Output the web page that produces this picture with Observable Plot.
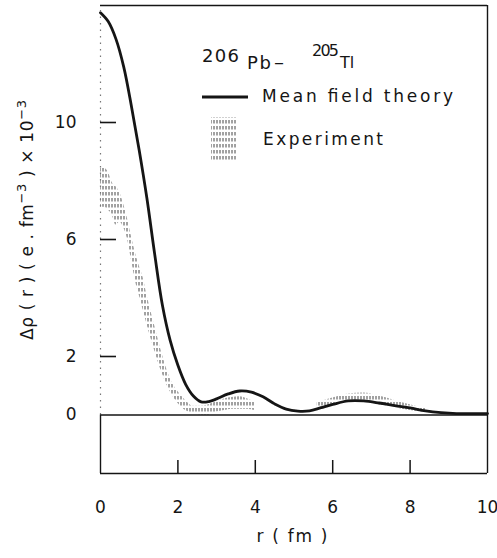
<!DOCTYPE html>
<html><head><meta charset="utf-8">
<script src="https://cdn.jsdelivr.net/npm/d3@7"></script>
<script src="https://cdn.jsdelivr.net/npm/@observablehq/plot@0.6"></script>
<style>body{margin:0;background:#fff} #chart svg{display:block}</style>
</head><body><div id="chart"></div>
<script>
// ---- data ----
const xTicks = [0, 2, 4, 6, 8, 10];
const yTicks = [0, 2, 6, 10];
const xDomain = [0, 10];
const yDomain = [-2, 14];

// Mean field theory curve
const theoryR = [0, 0.2, 0.4, 0.6, 0.8, 1.0, 1.2, 1.4, 1.6, 1.8, 2.0, 2.2, 2.4, 2.6, 2.8, 3.0, 3.3, 3.6, 3.9, 4.2, 4.5, 4.8, 5.1, 5.4, 5.7, 6.0, 6.4, 6.8, 7.2, 7.6, 8.0, 8.4, 8.8, 9.2, 10];
const theoryQ = [13.75, 13.45, 12.85, 11.9, 10.55, 9.05, 7.4, 5.5, 3.75, 2.55, 1.7, 1.05, 0.65, 0.45, 0.46, 0.55, 0.72, 0.82, 0.78, 0.62, 0.38, 0.2, 0.13, 0.14, 0.25, 0.36, 0.48, 0.48, 0.41, 0.32, 0.24, 0.14, 0.08, 0.05, 0.05];

// Experiment band (lower / upper), null = gap
const expR  = [0, 0.1, 0.2, 0.3, 0.4, 0.5, 0.6, 0.7, 0.8, 0.9, 1.0, 1.1, 1.2, 1.4, 1.6, 1.8, 2.0, 2.2, 2.4, 2.6, 2.8, 3.0, 3.2, 3.4, 3.6, 3.8, 4.0, 4.8, 5.6, 6.0, 6.4, 6.8, 7.2, 7.6, 8.0, 8.4];
const expHi = [8.5, 8.45, 8.3, 7.95, 7.8, 7.6, 7.2, 6.7, 6.1, 5.55, 5.1, 4.7, 4.1, 3.05, 2.05, 1.25, 0.8, 0.5, 0.3, 0.3, 0.35, 0.45, 0.55, 0.6, 0.62, 0.55, 0.45, null, 0.42, 0.58, 0.72, 0.75, 0.65, 0.5, 0.35, 0.22];
const expLo = [7.1, 7.1, 7.0, 6.85, 6.5, 6.6, 6.4, 6.0, 5.3, 4.6, 4.1, 3.6, 3.1, 2.2, 1.4, 0.8, 0.4, 0.15, 0.05, 0.0, 0.0, 0.1, 0.15, 0.2, 0.2, 0.2, 0.15, null, 0.25, 0.35, 0.45, 0.45, 0.35, 0.25, 0.15, 0.08];

const theory = theoryR.map((r, i) => ({r, q: theoryQ[i]}));
const exper = expR.map((r, i) => ({r, lo: expLo[i], hi: expHi[i]}));

const W = 497, H = 558, mL = 100, mR = 10, mT = 5, mB = 85;
const innerW = W - mL - mR, innerH = H - mT - mB;
const ink = "#151515";

const plot = Plot.plot({
  width: W, height: H,
  marginLeft: mL, marginRight: mR, marginTop: mT, marginBottom: mB,
  x: {domain: xDomain},
  y: {domain: yDomain},
  style: {fontFamily: "DejaVu Sans, sans-serif", fontSize: "17px", color: ink, background: "#fff"},
  marks: [
    Plot.areaY(exper, {x: "r", y1: "lo", y2: "hi", fill: "url(#hatch)", curve: "monotone-x"}),
    Plot.ruleY([0], {stroke: ink, strokeWidth: 1.4}),
    Plot.line(theory, {x: "r", y: "q", stroke: ink, strokeWidth: 2.8, curve: "catmull-rom"}),
    Plot.ruleY([yDomain[1]], {stroke: ink, strokeWidth: 1.6}),
    Plot.ruleY([yDomain[0]], {stroke: ink, strokeWidth: 1.6}),
    Plot.ruleX([xDomain[1]], {stroke: ink, strokeWidth: 1.4}),
    Plot.ruleX([xDomain[0]], {y1: () => 0, y2: () => yDomain[1], stroke: "#777", strokeWidth: 1.2, strokeDasharray: "1.5,5"}),
    Plot.ruleX([xDomain[0]], {y1: () => yDomain[0], y2: () => 0, stroke: ink, strokeWidth: 1.4}),
    Plot.tickX(xTicks.slice(1, -1), {x: d => d, insetTop: innerH - 13, stroke: ink, strokeWidth: 1.5}),
    Plot.tickY(yTicks.slice(1), {y: d => d, insetRight: innerW - 16, stroke: ink, strokeWidth: 1.6}),
    Plot.axisX({ticks: xTicks, tickSize: 0, tickPadding: 27, label: null}),
    Plot.axisY({ticks: yTicks, tickSize: 0, tickPadding: 24, label: null})
  ]
});

const svg = d3.select(plot);
const defs = svg.insert("defs", ":first-child");
const pat = defs.append("pattern").attr("id", "hatch").attr("patternUnits", "userSpaceOnUse")
  .attr("width", 3).attr("height", 6);
pat.append("line").attr("x1", 1).attr("x2", 1).attr("y1", 0).attr("y2", 3.5)
  .attr("stroke", "#444").attr("stroke-width", 1);

const g = svg.append("g").attr("fill", ink).attr("text-anchor", "start")
  .attr("font-family", "DejaVu Sans, sans-serif").attr("font-size", 17);

// legend title  206Pb – 205Tl
g.append("text").attr("x", 202).attr("y", 62).attr("font-size", 18).attr("textLength", 37).text("206");
g.append("text").attr("x", 247).attr("y", 69).attr("font-size", 18).attr("textLength", 24).text("Pb");
g.append("text").attr("x", 274).attr("y", 69).attr("font-size", 20).text("–");
g.append("text").attr("x", 312).attr("y", 56).attr("textLength", 27).attr("font-size", 16).text("205");
g.append("text").attr("x", 340).attr("y", 68).attr("font-size", 16).text("Tl");

// theory legend
g.append("line").attr("x1", 202).attr("x2", 248).attr("y1", 97).attr("y2", 97)
  .attr("stroke", ink).attr("stroke-width", 3);
g.append("text").attr("x", 262).attr("y", 102).attr("textLength", 191).attr("lengthAdjust", "spacing").text("Mean field theory");

// experiment legend
g.append("rect").attr("x", 211).attr("y", 117).attr("width", 25).attr("height", 43).attr("fill", "url(#hatch)");
g.append("text").attr("x", 263).attr("y", 145).attr("textLength", 120).attr("lengthAdjust", "spacing").text("Experiment");

// x label
g.append("text").attr("x", 292).attr("y", 542).attr("text-anchor", "middle").attr("textLength", 71)
  .attr("lengthAdjust", "spacing").text("r ( fm )");

// y label
const yl = g.append("text").attr("transform", "translate(33,220) rotate(-90)").attr("text-anchor", "middle")
  .attr("textLength", 240).attr("lengthAdjust", "spacing");
yl.append("tspan").text("Δρ ( r ) ( e . fm");
yl.append("tspan").attr("dy", -7).attr("font-size", 13).text("−3");
yl.append("tspan").attr("dy", 7).text(" ) × 10");
yl.append("tspan").attr("dy", -7).attr("font-size", 13).text("−3");

document.getElementById("chart").appendChild(plot);
</script>
</body></html>
